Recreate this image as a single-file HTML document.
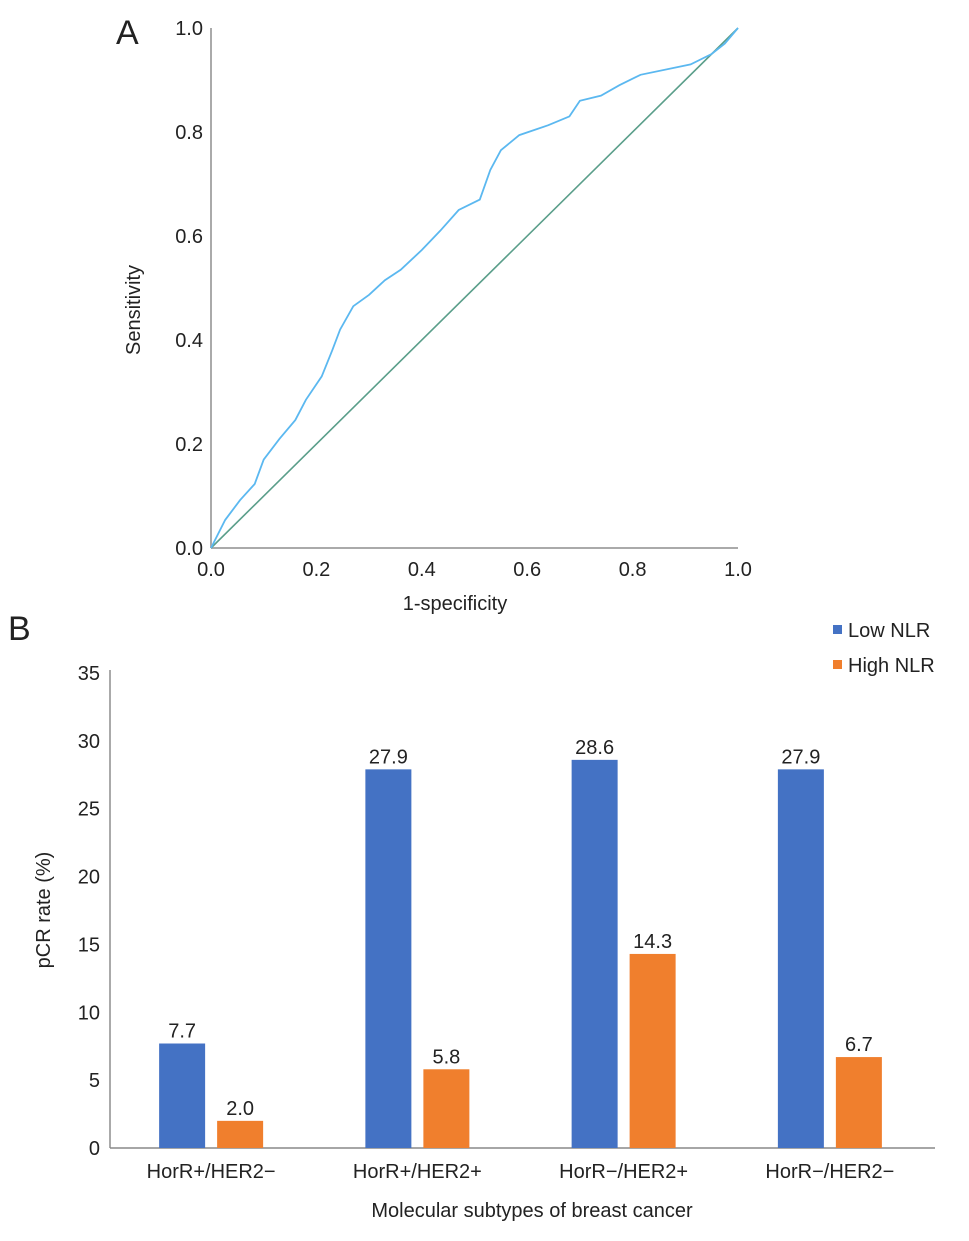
<!DOCTYPE html>
<html><head><meta charset="utf-8"><style>
body{margin:0;background:#fff;}
svg text{font-family:"Liberation Sans",Arial,sans-serif;fill:#222;}
</style></head><body>
<svg id="c" width="969" height="1236" viewBox="0 0 969 1236" xmlns="http://www.w3.org/2000/svg">
<text x="116" y="44" font-size="34">A</text>
<text x="8" y="640" font-size="34">B</text>
<g id="roc"></g>
<g id="bar"></g>
</svg>
<script>
const rocX=[0,0.027,0.055,0.083,0.10,0.13,0.16,0.18,0.21,0.23,0.245,0.27,0.30,0.33,0.36,0.40,0.435,0.47,0.51,0.53,0.55,0.585,0.64,0.68,0.70,0.74,0.775,0.815,0.91,0.95,0.975,1];
const rocY=[0,0.054,0.092,0.123,0.17,0.21,0.246,0.285,0.33,0.38,0.42,0.465,0.487,0.515,0.535,0.573,0.61,0.65,0.67,0.727,0.765,0.794,0.813,0.83,0.86,0.87,0.89,0.91,0.93,0.95,0.97,1];
const rocTicks=["0.0","0.2","0.4","0.6","0.8","1.0"];
const categories=["HorR+/HER2−","HorR+/HER2+","HorR−/HER2+","HorR−/HER2−"];
const lowNLR=[7.7,27.9,28.6,27.9];
const highNLR=[2.0,5.8,14.3,6.7];
const barTicks=[0,5,10,15,20,25,30,35];
const NS="http://www.w3.org/2000/svg";
function mk(p,t,a){const e=document.createElementNS(NS,t);for(const k in a)e.setAttribute(k,a[k]);p.appendChild(e);return e;}
// ROC
const roc=document.getElementById('roc');
const ax0=211,ax1=738,ay0=548,ay1=28;
const sx=v=>ax0+v*(ax1-ax0), sy=v=>ay0-v*(ay0-ay1);
let e=mk(roc,'line',{x1:ax0,y1:ay1,x2:ax0,y2:ay0,stroke:'#aaa','stroke-width':2});

e=mk(roc,'line',{x1:ax0,y1:ay0,x2:ax1,y2:ay0,stroke:'#aaa','stroke-width':2});

rocTicks.forEach((t,i)=>{const v=i/5;
 let a=mk(roc,'text',{x:ax0-8,y:sy(v)+7,'font-size':20,'text-anchor':'end'});a.textContent=t;
 
 a=mk(roc,'text',{x:sx(v),y:ay0+28,'font-size':20,'text-anchor':'middle'});a.textContent=t;
 });
e=mk(roc,'text',{x:140,y:310,'font-size':20,'text-anchor':'middle',transform:'rotate(-90 140 310)'});e.textContent='Sensitivity';

e=mk(roc,'text',{x:455,y:610,'font-size':20,'text-anchor':'middle'});e.textContent='1-specificity';

e=mk(roc,'line',{x1:sx(0),y1:sy(0),x2:sx(1),y2:sy(1),stroke:'#5a9e8a','stroke-width':1.6});

let d='';rocX.forEach((x,i)=>{d+=(i?'L':'M')+sx(x).toFixed(1)+' '+sy(rocY[i]).toFixed(1);});
e=mk(roc,'path',{d:d,fill:'none',stroke:'#5bb8f0','stroke-width':1.8});

// Bar
const bar=document.getElementById('bar');
const bx0=110,bx1=935,by0=1148,byTop=673;
const byv=v=>by0-v/35*(by0-byTop);
e=mk(bar,'line',{x1:bx0,y1:670,x2:bx0,y2:by0,stroke:'#aaa','stroke-width':2});

e=mk(bar,'line',{x1:bx0,y1:by0,x2:bx1,y2:by0,stroke:'#888','stroke-width':1.5});

barTicks.forEach(t=>{const a=mk(bar,'text',{x:bx0-10,y:byv(t)+7,'font-size':20,'text-anchor':'end'});a.textContent=t;
 });
e=mk(bar,'text',{x:50,y:910,'font-size':20,'text-anchor':'middle',transform:'rotate(-90 50 910)'});e.textContent='pCR rate (%)';

e=mk(bar,'text',{x:532,y:1217,'font-size':20,'text-anchor':'middle'});e.textContent='Molecular subtypes of breast cancer';

const gw=(bx1-bx0)/categories.length;
categories.forEach((c,i)=>{const cx=bx0+gw*(i+0.5)-2;
 [[lowNLR[i],'#4472c4',cx-52,'bar-low-nlr'],[highNLR[i],'#f07f2d',cx+6,'bar-high-nlr']].forEach(([v,col,x,n])=>{
  const r=mk(bar,'rect',{x:x,y:byv(v),width:46,height:by0-byv(v),fill:col});
  
  const t=mk(bar,'text',{x:x+23,y:byv(v)-6,'font-size':20,'text-anchor':'middle'});t.textContent=v.toFixed(1);
  });
 const t=mk(bar,'text',{x:cx,y:1178,'font-size':20,'text-anchor':'middle'});t.textContent=c;
 });
[['Low NLR','#4472c4',633],['High NLR','#f07f2d',668]].forEach(([l,col,y])=>{
 const g=mk(bar,'g',{});
 mk(g,'rect',{x:833,y:y-8,width:9,height:9,fill:col});
 const t=mk(g,'text',{x:848,y:y+4,'font-size':20});t.textContent=l;});
</script>
</body></html>
